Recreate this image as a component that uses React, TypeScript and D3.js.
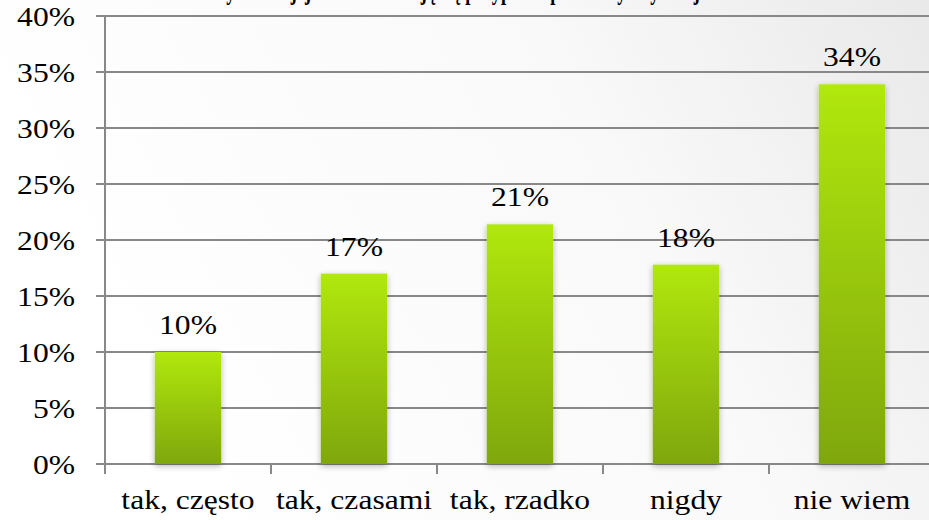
import React from "react";
import * as d3 from "d3";

const categories = ["tak, często", "tak, czasami", "tak, rzadko", "nigdy", "nie wiem"];
const values = [10, 17, 21.4, 17.8, 33.9];
const valueLabels = ["10%", "17%", "21%", "18%", "34%"];
const yTicks = [0, 5, 10, 15, 20, 25, 30, 35, 40];
const title = "Czy w Twojej szkole zdarzają się przypadki przemocy fizycznej wśród uczniów?";

const W = 929;
const H = 520;
const left = 105;
const right = 935;
const top = 16;
const bottom = 464;
const SX = 1.17;
const FS = 27;
const FAM = "'Liberation Serif'";

function T(props: { x: number; y: number; anchor?: string; children: React.ReactNode }) {
  return (
    <text
      transform={`translate(${props.x},${props.y}) scale(${SX},1)`}
      textAnchor={props.anchor || "middle"}
      fontSize={FS}
      style={{ fontFamily: FAM }}
      fill="#000"
    >
      {props.children}
    </text>
  );
}

export default function App() {
  const x = d3.scaleBand<string>().domain(categories).range([left, right]).paddingInner(0.6).paddingOuter(0.3);
  const xb = d3.scaleBand<string>().domain(categories).range([left, right]);
  const y = d3.scaleLinear().domain([0, 40]).range([bottom, top]);
  const grid = "#888888";
  return (
    <svg width={W} height={H} style={{ position: "absolute", left: 0, top: 0, fontFamily: FAM }}>
      <defs>
        <linearGradient id="bg" x1="0" y1="0.3" x2="1" y2="0">
          <stop offset="0" stopColor="#ffffff" />
          <stop offset="0.6" stopColor="#f9f9f9" />
          <stop offset="1" stopColor="#e9e9e9" />
        </linearGradient>
        <linearGradient id="bar" x1="0" y1="0" x2="0" y2="1">
          <stop offset="0" stopColor="#b1e80b" />
          <stop offset="1" stopColor="#7fa709" />
        </linearGradient>
        <filter id="sh" x="-20%" y="-10%" width="140%" height="120%">
          <feGaussianBlur in="SourceAlpha" stdDeviation="3" />
          <feOffset dx="0" dy="2" result="b" />
          <feComponentTransfer><feFuncA type="linear" slope="0.3" /></feComponentTransfer>
          <feMerge><feMergeNode /><feMergeNode in="SourceGraphic" /></feMerge>
        </filter>
      </defs>
      <rect x={0} y={0} width={W} height={H} fill="url(#bg)" />
      <text x={205} y={-1} style={{ fontFamily: FAM }} fontWeight="bold" fontSize={27} textLength={625} lengthAdjust="spacingAndGlyphs" fill="#000">{title}</text>
      {yTicks.map((t) => (
        <g key={t}>
          <line x1={96} x2={W} y1={y(t)} y2={y(t)} stroke={grid} strokeWidth={2} />
          <T x={75} y={y(t) + 10} anchor="end">{t}%</T>
        </g>
      ))}
      <line x1={left} x2={left} y1={top} y2={bottom} stroke={grid} strokeWidth={2} />
      {categories.map((c, i) => (
        <line key={"tk" + i} x1={xb(c)!} x2={xb(c)!} y1={bottom} y2={bottom + 10} stroke={grid} strokeWidth={2} />
      ))}
      {categories.map((c, i) => (
        <g key={c}>
          <rect x={x(c)!} y={y(values[i])} width={x.bandwidth()} height={bottom - y(values[i])} fill="url(#bar)" filter="url(#sh)" />
          <T x={x(c)! + x.bandwidth() / 2} y={y(values[i]) - 18}>{valueLabels[i]}</T>
          <T x={xb(c)! + xb.bandwidth() / 2} y={509}>{c}</T>
        </g>
      ))}
    </svg>
  );
}
